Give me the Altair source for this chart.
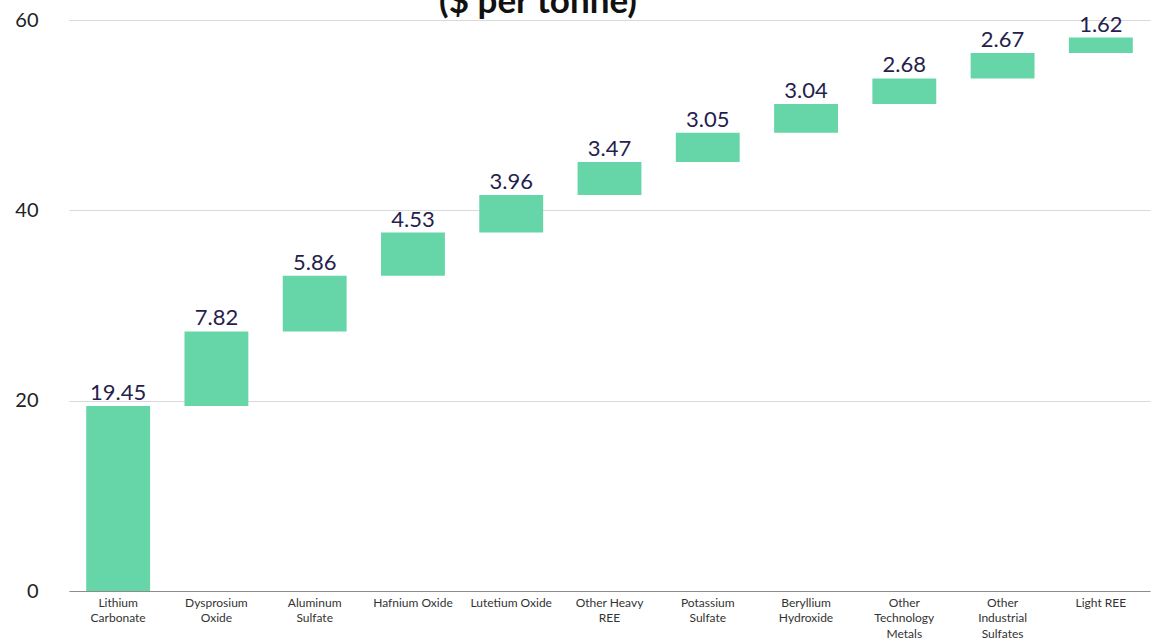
import altair as alt
import pandas as pd

categories = [
    "Lithium|Carbonate", "Dysprosium|Oxide", "Aluminum|Sulfate", "Hafnium Oxide",
    "Lutetium Oxide", "Other Heavy|REE", "Potassium|Sulfate", "Beryllium|Hydroxide",
    "Other|Technology|Metals", "Other|Industrial|Sulfates", "Light REE",
]
values = [19.45, 7.82, 5.86, 4.53, 3.96, 3.47, 3.05, 3.04, 2.68, 2.67, 1.62]
title_text = ["($ per tonne)"]
y_ticks = [0, 20, 40, 60]

df = pd.DataFrame({"cat": categories, "value": values})
df["end"] = df["value"].cumsum()
df["start"] = df["end"] - df["value"]
df["label"] = df["value"].map(lambda v: f"{v:.2f}")

BAR = "#66D6A8"
LABEL = "#251E4E"

x = alt.X(
    "cat:N", sort=categories, title=None,
    scale=alt.Scale(range=[17, 1098], paddingInner=0.35, paddingOuter=0.175),
    axis=alt.Axis(
        labelExpr="split(datum.label, '|')", labelAngle=0, labelFont="Lato",
        labelFontSize=12, labelLineHeight=15.5, labelColor="#333333",
        labelPadding=6, ticks=False, domainColor="#8c8c8c", domainWidth=1,
        grid=False, labelBaseline="top",
    ),
)
y_scale = alt.Scale(domain=[0, 60], nice=False)
y_axis = alt.Axis(values=y_ticks, labelFont="Lato", labelFontSize=20,
                  labelColor="#222222", labelPadding=14, ticks=False,
                  domain=False, gridColor="#d9d9d9", gridWidth=1)

bars = alt.Chart(df).mark_bar(color=BAR).encode(
    x=x,
    y=alt.Y("start:Q", scale=y_scale, title=None, axis=y_axis),
    y2="end:Q",
)

labels = alt.Chart(df).mark_text(
    font="Lato", fontSize=22, color=LABEL, baseline="alphabetic", dy=-6
).encode(
    x=x,
    y=alt.Y("end:Q", scale=y_scale, title=None, axis=y_axis),
    text="label:N",
)

title = alt.Chart(pd.DataFrame({"t": title_text})).mark_text(
    font="Lato", fontSize=35, fontWeight="bold", color="#111111",
    baseline="alphabetic", align="center"
).encode(x=alt.value(486), y=alt.value(-7), text="t:N")

chart = (
    alt.layer(bars, labels, title)
    .properties(
        width=1103, height=571,
        background="white",
        autosize=alt.AutoSizeParams(type="none"),
        padding={"left": 52, "top": 20, "right": 0, "bottom": 50},
    )
    .configure_view(strokeWidth=0, stroke="transparent")
)

chart.save("out.html", embed_options={"renderer": "svg", "actions": False})
